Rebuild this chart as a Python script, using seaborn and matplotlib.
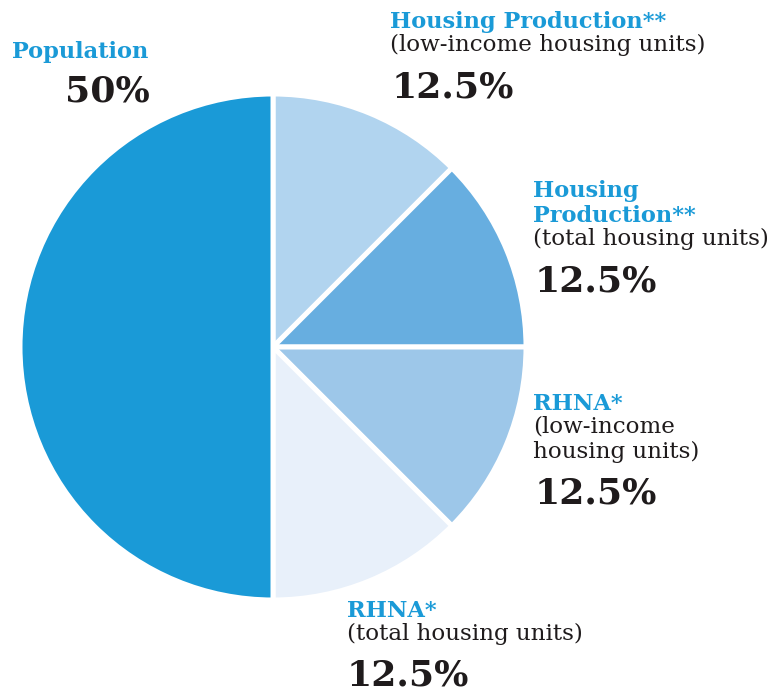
import matplotlib
matplotlib.use("Agg")
import matplotlib.pyplot as plt
import seaborn as sns

sns.set_theme(style="white")
plt.rcParams["font.family"] = ["DejaVu Serif", "DejaVu Sans"]

# Slice data, clockwise from 12 o'clock
categories = [
    "Housing Production** (low-income housing units)",
    "Housing Production** (total housing units)",
    "RHNA* (low-income housing units)",
    "RHNA* (total housing units)",
    "Population",
]
shares = [12.5, 12.5, 12.5, 12.5, 50]
slice_colors = ["#b1d4ef", "#67aee0", "#9dc7e9", "#e8f0fa", "#1a9ad7"]

# Label blocks: (title lines, subtitle lines, value text)
label_titles = [["Housing Production**"], ["Housing", "Production**"], ["RHNA*"], ["RHNA*"], ["Population"]]
label_notes = [["(low-income housing units)"], ["(total housing units)"], ["(low-income", "housing units)"],
               ["(total housing units)"], []]
label_values = ["12.5%", "12.5%", "12.5%", "12.5%", "50%"]

W, H = 770, 698
fig = plt.figure(figsize=(W / 100, H / 100), dpi=100)
ax = fig.add_axes([0, 0, 1, 1])
ax.set_xlim(0, W)
ax.set_ylim(0, H)
ax.set_aspect("equal")
ax.axis("off")

ax.pie(shares, colors=slice_colors, startangle=90, counterclock=False,
       center=(273, H - 347), radius=253,
       wedgeprops=dict(edgecolor="white", linewidth=3.6))
ax.set_xlim(0, W)
ax.set_ylim(0, H)

blue = "#1a9ad7"
dark = "#1f1b1c"

# anchor (left x, baseline of first line, pixel rows from top)
anchors = [(390, 28), (533, 197), (533, 410), (347, 617), (12, 58)]
value_x = [392, 535, 535, 347, 65]
line_gap = 25

for (x, y0), titles, notes, val, vx in zip(anchors, label_titles, label_notes, label_values, value_x):
    y = y0
    for t in titles:
        ax.text(x, H - y, t, color=blue, fontsize=16.2, fontweight="heavy",
                ha="left", va="baseline")
        y += line_gap
    for n in notes:
        ax.text(x, H - y + 2, n, color=dark, fontsize=16.6,
                ha="left", va="baseline")
        y += line_gap
    y += 19
    ax.text(vx, H - y, val, color=dark, fontsize=26, fontweight="heavy",
            ha="left", va="baseline")

fig.savefig("out.png", dpi=100, facecolor="white")
